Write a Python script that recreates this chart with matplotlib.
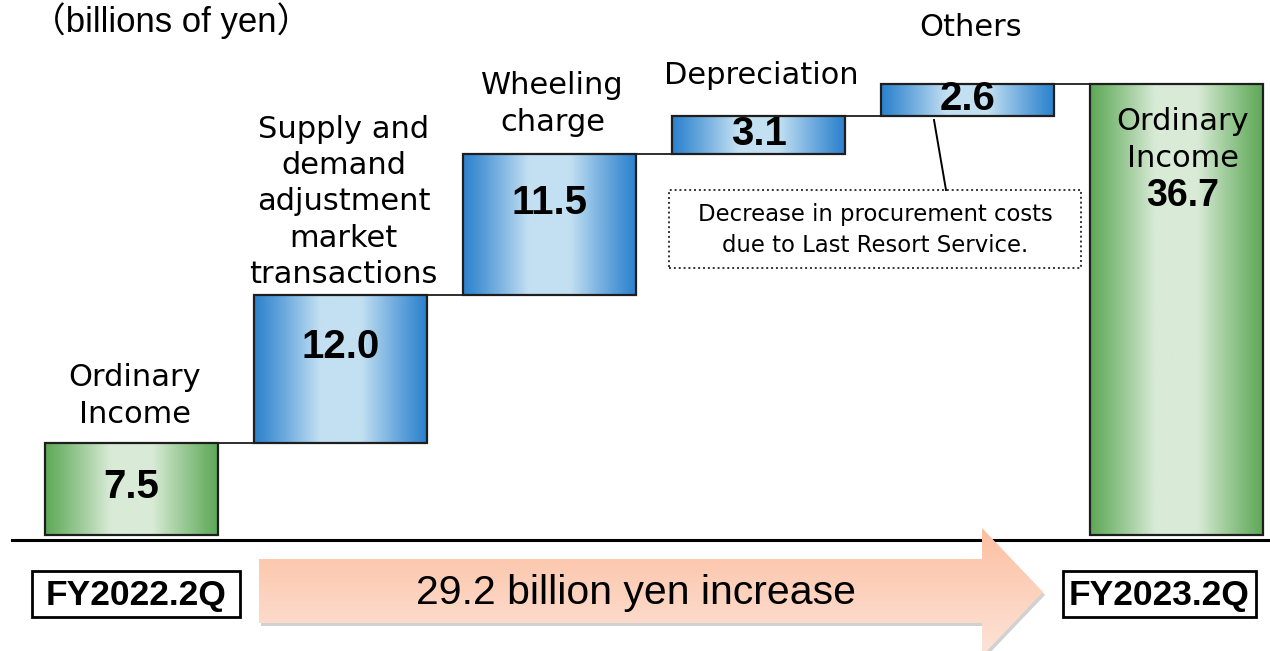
import numpy as np
import matplotlib
matplotlib.use("Agg")
import matplotlib.pyplot as plt
from matplotlib.patches import Rectangle, Polygon
from matplotlib.colors import to_rgb

## Data

categories = ["Ordinary\nIncome",
              "Supply and\ndemand\nadjustment\nmarket\ntransactions",
              "Wheeling\ncharge", "Depreciation", "Others", "Ordinary\nIncome"]
values = [7.5, 12.0, 11.5, 3.1, 2.6, 36.7]
kinds = ["total", "delta", "delta", "delta", "delta", "total"]
periods = ["FY2022.2Q", "FY2023.2Q"]
unit_text = "（billions of yen）"
increase_text = "29.2 billion yen increase"
note_text = "Decrease in procurement costs\ndue to Last Resort Service."

## Layout (pixel space of the 1270x651 picture -> data space)

W, H = 1270, 651
X0, XS = 131.5, 209.0   # pixel x of first bar centre, pixels per category
Y0, YS = 535.0, 12.3    # pixel y of value 0, pixels per billion yen


def P(x, y):
    return (x - X0) / XS, (Y0 - y) / YS


bar_w = 173 / XS
blue_dark, blue_light = "#2c82ce", "#c3e0f2"
green_dark, green_light = "#5fa958", "#d9ebd7"

fig = plt.figure(figsize=(12.7, 6.51), dpi=100)
ax = fig.add_axes([0, 0, 1, 1])
ax.axis("off")


def gradient(c_edge, c_mid, n=256):
    t = np.linspace(0, 1, n)
    m = np.clip(np.minimum(t, 1 - t) / 0.38, 0, 1) ** 1.1
    a, b = np.array(to_rgb(c_edge)), np.array(to_rgb(c_mid))
    return (a[None, :] * (1 - m[:, None]) + b[None, :] * m[:, None])[None, :, :]


# bars
bottoms, tops = [], []
run = 0.0
for v, k in zip(values, kinds):
    if k == "total":
        b, t = 0.0, v
        run = v
    else:
        b, t = run, run + v
        run = t
    bottoms.append(b)
    tops.append(t)

for i, (b, t, k) in enumerate(zip(bottoms, tops, kinds)):
    x0 = i - bar_w / 2
    if k == "total":
        cg = gradient(green_dark, green_light)
    else:
        cg = gradient(blue_dark, blue_light)
    rect = Rectangle((x0, b), bar_w, t - b, facecolor="none",
                     edgecolor="#1e1e1e", lw=1.6, zorder=4)
    ax.add_patch(rect)
    im = ax.imshow(cg, extent=[x0, x0 + bar_w, b, t], aspect="auto",
                   interpolation="bicubic", zorder=3)
    im.set_clip_path(rect)

# connectors
for i in range(len(values) - 1):
    ax.plot([i + bar_w / 2, i + 1 - bar_w / 2], [tops[i], tops[i]],
            color="#1e1e1e", lw=1.3, zorder=2)

# baseline
bx0, by = P(12, 540)
ax.plot([bx0, P(W, 0)[0]], [by, by], color="black", lw=2.2, zorder=2)

# value labels
for i, (b, t, v, k) in enumerate(zip(bottoms, tops, values, kinds)):
    if i == len(values) - 1:
        continue
    frac = 0.65 if (t - b) > 10 else 0.52
    ax.text(i, b + frac * (t - b), f"{v:.1f}", ha="center", va="center",
            fontsize=29, fontweight="bold", family="Liberation Sans", zorder=5)

# category labels
label_py = [396, 202, 104, 76, 28]
for i, py in enumerate(label_py):
    ax.text(i + 0.015, P(0, py)[1], categories[i], ha="center", va="center",
            fontsize=22, family="DejaVu Sans", linespacing=1.32, zorder=5)
n = len(values) - 1
ax.text(n + 0.03, P(0, 140)[1], categories[n], ha="center", va="center",
        fontsize=22, family="DejaVu Sans", linespacing=1.32, zorder=5)
ax.text(n + 0.03, P(0, 196)[1], f"{values[n]:.1f}", ha="center", va="center",
        fontsize=27, fontweight="bold", family="Liberation Sans", zorder=5)

# note box and leader line
nx0, ny0 = P(669, 268)
nx1, ny1 = P(1081, 190)
ax.add_patch(Rectangle((nx0, ny0), nx1 - nx0, ny1 - ny0, facecolor="white",
                       edgecolor="#333333", lw=1.4, ls=(0, (1, 1.5)), zorder=5))
ax.text((nx0 + nx1) / 2, P(0, 230)[1], note_text, ha="center", va="center",
        fontsize=16.4, family="DejaVu Sans", linespacing=1.42, zorder=6)
lx = [P(934, 120)[0], P(946, 190)[0]]
ly = [P(934, 120)[1], P(946, 190)[1]]
ax.plot(lx, ly, color="black", lw=1.4, zorder=6)

# unit
ax.text(*P(31, 32), unit_text, ha="left", va="baseline", fontsize=25,
        family=["Liberation Sans", "Noto Sans CJK JP"])

# period boxes
for (bx, s) in zip([(32, 240), (1063, 1256)], periods):
    r0x, r0y = P(bx[0], 617)
    r1x, r1y = P(bx[1], 571)
    ax.add_patch(Rectangle((r0x, r0y), r1x - r0x, r1y - r0y, facecolor="white",
                           edgecolor="black", lw=2, zorder=5))
    ax.text((r0x + r1x) / 2, P(0, 595)[1], s, ha="center", va="center",
            fontsize=25.5, fontweight="bold", family="Liberation Sans", zorder=6)

# increase arrow
arrow_px = [(259, 559), (982, 559), (982, 528), (1043, 592), (982, 656),
            (982, 623), (259, 623)]
shadow = Polygon([P(x + 2, y + 3) for x, y in arrow_px], closed=True,
                 facecolor="#8c8c8c", edgecolor="none", alpha=0.4, zorder=1)
ax.add_patch(shadow)
arrow = Polygon([P(x, y) for x, y in arrow_px], closed=True,
                facecolor="none", edgecolor="none", zorder=2)
ax.add_patch(arrow)
t = np.linspace(0, 1, 128)[:, None]
c_top, c_bot = np.array(to_rgb("#fcbfa2")), np.array(to_rgb("#fde4d8"))
ag = (c_top[None, :] * (1 - t) + c_bot[None, :] * t)[:, None, :]
ax0, ay1 = P(259, 528)
ax1, ay0 = P(1043, 656)
im = ax.imshow(ag, extent=[ax0, ax1, ay0, ay1], aspect="auto",
               interpolation="bicubic", zorder=2)
im.set_clip_path(arrow)
ax.text(*P(636, 593), increase_text, ha="center", va="center", fontsize=29.5,
        family="Liberation Sans", zorder=5)

ax.set_xlim(P(0, 0)[0], P(W, 0)[0])
ax.set_ylim(P(0, H)[1], P(0, 0)[1])

fig.savefig("out.png", dpi=100)
